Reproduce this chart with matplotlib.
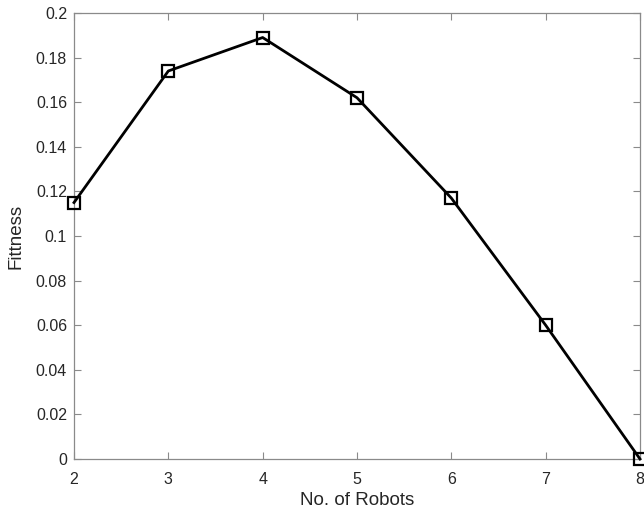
import matplotlib
matplotlib.use("Agg")
import matplotlib.pyplot as plt

# fitness vs team size
robots = [2, 3, 4, 5, 6, 7, 8]
fitness = [0.115, 0.174, 0.189, 0.162, 0.117, 0.060, 0.0]
x_ticks = [2, 3, 4, 5, 6, 7, 8]
y_ticks = [0, 0.02, 0.04, 0.06, 0.08, 0.1, 0.12, 0.14, 0.16, 0.18, 0.2]
y_labels = ["0", "0.02", "0.04", "0.06", "0.08", "0.1", "0.12", "0.14", "0.16", "0.18", "0.2"]

plt.rcParams['font.family'] = ['Liberation Sans', 'DejaVu Sans']

fig = plt.figure(figsize=(6.44, 5.08), dpi=100)
ax = fig.add_axes([74 / 644, 49 / 508, 566 / 644, 446 / 508])

ax.plot(robots, fitness, color='black', linewidth=2.0, marker='s', markersize=8,
        markerfacecolor='none', markeredgecolor='black', markeredgewidth=1.6,
        clip_on=False, zorder=3)

ax.set_xlim(2, 8)
ax.set_ylim(0, 0.2)
ax.set_xticks(x_ticks)
ax.set_yticks(y_ticks)
ax.set_yticklabels(y_labels)

axis_gray = '#8a8a8a'
text_gray = '#262626'
for s in ax.spines.values():
    s.set_color(axis_gray)
    s.set_linewidth(0.9)
ax.tick_params(direction='in', length=5, width=0.8, color=axis_gray,
               labelcolor=text_gray, labelsize=11.5, top=True, right=True)
ax.tick_params(axis='x', pad=9)
ax.tick_params(axis='y', pad=5)

ax.set_xlabel("No. of Robots", fontsize=13.5, color=text_gray, labelpad=4)
ax.set_ylabel("Fittness", fontsize=13.5, color=text_gray, labelpad=8)

fig.savefig("out.png", dpi=100)
